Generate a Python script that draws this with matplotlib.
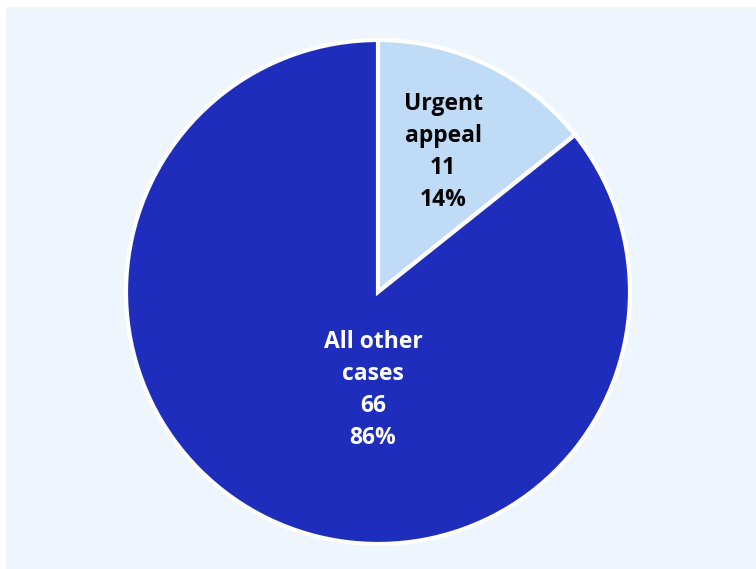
import matplotlib.pyplot as plt
from matplotlib.patches import Rectangle

labels = ['Urgent appeal', 'All other cases']
label_lines = ['Urgent\nappeal', 'All other\ncases']
counts = [11, 66]
colors = ['#c0dbf6', '#1f2dbd']
text_colors = ['#000000', '#ffffff']

W, H = 756, 569
fig = plt.figure(figsize=(W / 100, H / 100), dpi=100, facecolor='white')
ax = fig.add_axes([0, 0, 1, 1])

# light panel behind the pie
ax.add_patch(Rectangle((6, 0), W - 6, H - 7, facecolor='#eef5fd', edgecolor='none', zorder=0))

cx, cy, r = 378, H - 292, 252
wedges, _ = ax.pie(counts, colors=colors, startangle=90, counterclock=False,
                   center=(cx, cy), radius=r, frame=True,
                   wedgeprops=dict(edgecolor='white', linewidth=3))
ax.set_xlim(0, W)
ax.set_ylim(0, H)
ax.set_aspect('equal')
ax.axis('off')

total = sum(counts)
offsets = [(65, 140), (-5, -98)]
for lab, n, col, (dx, dy) in zip(label_lines, counts, text_colors, offsets):
    pct = round(100 * n / total)
    ax.text(cx + dx, cy + dy, f'{lab}\n{n}\n{pct}%', ha='center', va='center',
            color=col, fontsize=16.5, fontweight='bold', family='Open Sans',
            linespacing=1.45, zorder=5)

fig.savefig('out.png', dpi=100, facecolor='white')
